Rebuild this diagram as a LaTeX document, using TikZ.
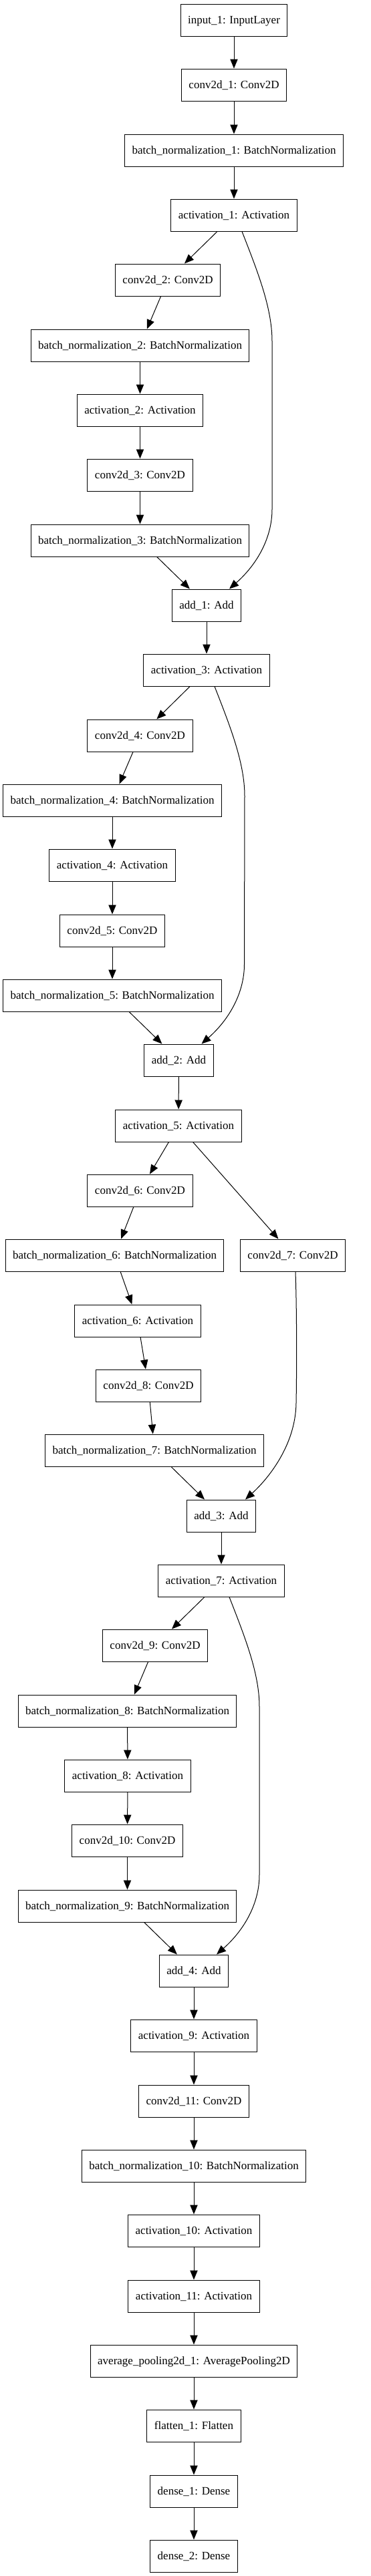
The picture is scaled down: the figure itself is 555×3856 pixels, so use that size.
\documentclass[tikz,border=0pt]{standalone}
\usepackage{fontspec}
\setmainfont{Liberation Serif}
\usetikzlibrary{arrows.meta,calc}
% residual shortcut: from the right of a block's output down to the add node
\newcommand{\skipedge}[2]{%
  \draw[->] ($(#1.south)+(12,0)$)
    .. controls ($(#1.south)+(35,-59)$) and ($(#1.south)+(57,-114)$) .. ($(#1.south)+(57,-164)$)
    -- ($(#2.north)+(98,119)$)
    .. controls ($(#2.north)+(98,77)$) and ($(#2.north)+(76,37)$) .. ($(#2.north)+(34,0)$);}

\begin{document}
\begin{tikzpicture}[
    x=0.75pt, y=0.75pt, line width=0.75pt, >={Triangle[length=10.5pt,width=8.5pt]},
    box/.style={draw, minimum height=36pt, inner xsep=8.25pt, text height=9.5pt, text depth=2pt,
      font=\fontsize{12.75}{15}\selectfont}]
  \useasboundingbox (0,0) rectangle (555,-3856);
  \node[box] (in1) at (350,-30) {input\_1: InputLayer};
  \node[box] (cv1) at (350,-127) {conv2d\_1: Conv2D};
  \node[box] (bn1) at (350,-225) {batch\_normalization\_1: BatchNormalization};
  \node[box] (ac1) at (350,-322) {activation\_1: Activation};
  \node[box] (cv2) at (251,-419) {conv2d\_2: Conv2D};
  \node[box] (bn2) at (209.5,-517) {batch\_normalization\_2: BatchNormalization};
  \node[box] (ac2) at (209.5,-614) {activation\_2: Activation};
  \node[box] (cv3) at (209.5,-711) {conv2d\_3: Conv2D};
  \node[box] (bn3) at (209.5,-809) {batch\_normalization\_3: BatchNormalization};
  \node[box] (add1) at (309,-906) {add\_1: Add};
  \node[box] (ac3) at (309,-1003) {activation\_3: Activation};
  \node[box] (cv4) at (209.5,-1101) {conv2d\_4: Conv2D};
  \node[box] (bn4) at (168,-1198) {batch\_normalization\_4: BatchNormalization};
  \node[box] (ac4) at (168,-1295) {activation\_4: Activation};
  \node[box] (cv5) at (168,-1393) {conv2d\_5: Conv2D};
  \node[box] (bn5) at (168,-1490) {batch\_normalization\_5: BatchNormalization};
  \node[box] (add2) at (267.5,-1587) {add\_2: Add};
  \node[box] (ac5) at (267,-1685) {activation\_5: Activation};
  \node[box] (cv6) at (209.5,-1782) {conv2d\_6: Conv2D};
  \node[box] (bn6) at (171.5,-1879) {batch\_normalization\_6: BatchNormalization};
  \node[box] (cv7) at (438,-1879) {conv2d\_7: Conv2D};
  \node[box] (ac6) at (206,-1977) {activation\_6: Activation};
  \node[box] (cv8) at (222,-2074) {conv2d\_8: Conv2D};
  \node[box] (bn7) at (231,-2171) {batch\_normalization\_7: BatchNormalization};
  \node[box] (add3) at (331,-2269) {add\_3: Add};
  \node[box] (ac7) at (331,-2366) {activation\_7: Activation};
  \node[box] (cv9) at (232,-2463) {conv2d\_9: Conv2D};
  \node[box] (bn8) at (190.5,-2561) {batch\_normalization\_8: BatchNormalization};
  \node[box] (ac8) at (191,-2658) {activation\_8: Activation};
  \node[box] (cv10) at (190.5,-2755) {conv2d\_10: Conv2D};
  \node[box] (bn9) at (190.5,-2853) {batch\_normalization\_9: BatchNormalization};
  \node[box] (add4) at (290,-2950) {add\_4: Add};
  \node[box] (ac9) at (290,-3047) {activation\_9: Activation};
  \node[box] (cv11) at (290,-3145) {conv2d\_11: Conv2D};
  \node[box] (bn10) at (290,-3242) {batch\_normalization\_10: BatchNormalization};
  \node[box] (ac10) at (290,-3339) {activation\_10: Activation};
  \node[box] (ac11) at (290,-3437) {activation\_11: Activation};
  \node[box] (pool) at (290,-3534) {average\_pooling2d\_1: AveragePooling2D};
  \node[box] (flat) at (290,-3631) {flatten\_1: Flatten};
  \node[box] (dn1) at (290,-3729) {dense\_1: Dense};
  \node[box] (dn2) at (290,-3826) {dense\_2: Dense};
  % main path
  \draw[->] (in1) -- (cv1);
  \draw[->] (cv1) -- (bn1);
  \draw[->] (bn1) -- (ac1);
  \draw[->] (ac1) -- (cv2);
  \draw[->] (cv2) -- (bn2);
  \draw[->] (bn2) -- (ac2);
  \draw[->] (ac2) -- (cv3);
  \draw[->] (cv3) -- (bn3);
  \draw[->] (bn3) -- (add1);
  \draw[->] (add1) -- (ac3);
  \draw[->] (ac3) -- (cv4);
  \draw[->] (cv4) -- (bn4);
  \draw[->] (bn4) -- (ac4);
  \draw[->] (ac4) -- (cv5);
  \draw[->] (cv5) -- (bn5);
  \draw[->] (bn5) -- (add2);
  \draw[->] (add2) -- (ac5);
  \draw[->] (ac5) -- (cv6);
  \draw[->] (ac5) -- (cv7);
  \draw[->] (cv6) -- (bn6);
  \draw[->] (bn6) -- (ac6);
  \draw[->] (ac6) -- (cv8);
  \draw[->] (cv8) -- (bn7);
  \draw[->] (bn7) -- (add3);
  \draw[->] (add3) -- (ac7);
  \draw[->] (ac7) -- (cv9);
  \draw[->] (cv9) -- (bn8);
  \draw[->] (bn8) -- (ac8);
  \draw[->] (ac8) -- (cv10);
  \draw[->] (cv10) -- (bn9);
  \draw[->] (bn9) -- (add4);
  \draw[->] (add4) -- (ac9);
  \draw[->] (ac9) -- (cv11);
  \draw[->] (cv11) -- (bn10);
  \draw[->] (bn10) -- (ac10);
  \draw[->] (ac10) -- (ac11);
  \draw[->] (ac11) -- (pool);
  \draw[->] (pool) -- (flat);
  \draw[->] (flat) -- (dn1);
  \draw[->] (dn1) -- (dn2);
  % shortcuts
  \skipedge{ac1}{add1}
  \skipedge{ac3}{add2}
  \skipedge{ac7}{add4}
  \draw[->] ($(cv7.south)+(4,0)$)
    .. controls ($(cv7.south)+(6,-57)$) and ($(cv7.south)+(6,-147)$) .. ($(cv7.south)+(5,-197)$)
    .. controls ($(add3.north)+(111,80)$) and ($(add3.north)+(69,30)$) .. ($(add3.north)+(36,0)$);
\end{tikzpicture}
\end{document}
